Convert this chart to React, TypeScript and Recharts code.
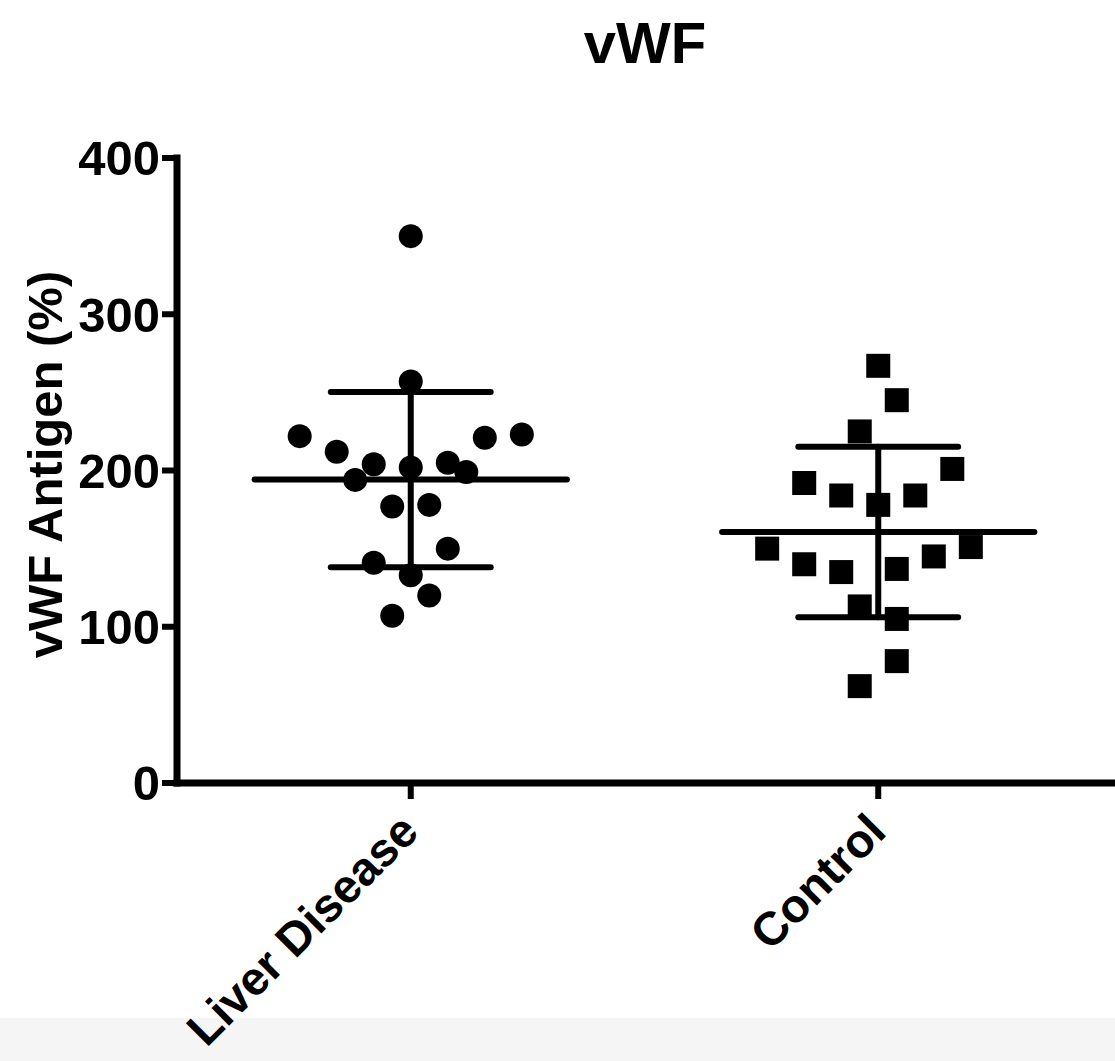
import { ReferenceLine, Scatter, ScatterChart, XAxis, YAxis } from "recharts";

const categories = ["Liver Disease", "Control"];
const yTicks = [0, 100, 200, 300, 400];

// values, with the column each dot sits in (scatter spread)
const liverValues = [350, 257, 222, 212, 204, 194, 202, 205, 199, 221, 223, 177, 178, 150, 141, 133, 120, 107];
const liverColumns = [0, 0, -6, -4, -2, -3, 0, 2, 3, 4, 6, -1, 1, 2, -2, 0, 1, -1];
const controlValues = [267, 245, 225, 201, 192, 184, 178, 184, 150, 151, 140, 135, 137, 145, 113, 105, 78, 62];
const controlColumns = [0, 1, -1, 4, -4, -2, 0, 2, -6, 5, -4, -2, 1, 3, -1, 1, 1, -1];

const COL_W = 0.0396;
const MEAN_HALF = 0.334;
const SD_HALF = 0.171;
const FONT = "'Liberation Sans', Arial, Helvetica, sans-serif";

const toPoints = (center: number, values: number[], cols: number[]) =>
  values.map((v, i) => ({ x: center + cols[i] * COL_W, y: v }));

const stats = (values: number[]) => {
  const mean = values.reduce((a, b) => a + b, 0) / values.length;
  const sd = Math.sqrt(
    values.reduce((a, b) => a + (b - mean) ** 2, 0) / (values.length - 1)
  );
  return { mean, sd };
};

const groups = [
  { center: 0.5, values: liverValues, cols: liverColumns },
  { center: 1.5, values: controlValues, cols: controlColumns },
];

const Circle = (props: any) => {
  const { cx, cy } = props;
  return <circle cx={cx} cy={cy} r={12} fill="#000" />;
};

const Square = (props: any) => {
  const { cx, cy } = props;
  return <rect x={cx - 12} y={cy - 12} width={24} height={24} fill="#000" />;
};

const XTick = (props: any) => {
  const { x, y, payload } = props;
  const idx = Math.round(payload.value - 0.5);
  const ax = x + 10;
  const ay = y + 33;
  return (
    <text
      x={ax}
      y={ay}
      transform={`rotate(-45, ${ax}, ${ay})`}
      textAnchor="end"
      fill="#000"
      fontSize={47}
      fontWeight="bold"
      fontFamily={FONT}
    >
      {categories[idx]}
    </text>
  );
};

const YLabel = (props: any) => {
  const { viewBox } = props;
  const cx = 45;
  const cy = viewBox.y + viewBox.height / 2 - 6;
  return (
    <text
      x={cx}
      y={cy}
      transform={`rotate(-90, ${cx}, ${cy})`}
      textAnchor="middle"
      dominantBaseline="central"
      fill="#000"
      fontSize={49}
      fontWeight="bold"
      fontFamily={FONT}
    >
      vWF Antigen (%)
    </text>
  );
};

const App = () => {
  const lineStyle = { stroke: "#000", strokeWidth: 6, strokeLinecap: "round" as const };

  return (
    <div style={{ position: "absolute", left: 0, top: 0, width: 1115, height: 1061, background: "#fff" }}>
      <div
        style={{
          position: "absolute",
          left: 0,
          top: 1018,
          width: 1115,
          height: 43,
          background: "#f5f5f5",
        }}
      />
      <div
        style={{
          position: "absolute",
          left: 0,
          top: 14,
          width: 1290,
          textAlign: "center",
          fontFamily: FONT,
          fontWeight: "bold",
          fontSize: 58,
          lineHeight: "58px",
          color: "#000",
        }}
      >
        vWF
      </div>
      <div style={{ position: "absolute", left: 0, top: 0 }}>
        <ScatterChart width={1115} height={1061} margin={{ top: 158, right: 3, bottom: 0, left: 0 }}>
          <XAxis
            type="number"
            dataKey="x"
            domain={[0, 2]}
            ticks={[0.5, 1.5]}
            height={278}
            tick={<XTick />}
            tickSize={16}
            tickMargin={2}
            axisLine={{ stroke: "#000", strokeWidth: 7, strokeLinecap: "square" }}
            tickLine={{ stroke: "#000", strokeWidth: 6 }}
            allowDataOverflow
          />
          <YAxis
            type="number"
            dataKey="y"
            domain={[0, 400]}
            ticks={yTicks}
            width={177}
            tickSize={15}
            tickMargin={2}
            axisLine={{ stroke: "#000", strokeWidth: 7, strokeLinecap: "square" }}
            tickLine={{ stroke: "#000", strokeWidth: 6 }}
            tick={{ fill: "#000", fontSize: 49, fontWeight: "bold", fontFamily: FONT }}
            label={<YLabel />}
          />
          {groups.map((g, i) => {
            const { mean, sd } = stats(g.values);
            return [
              <ReferenceLine
                key={`mean-${i}`}
                segment={[
                  { x: g.center - MEAN_HALF, y: mean },
                  { x: g.center + MEAN_HALF, y: mean },
                ]}
                {...lineStyle}
              />,
              <ReferenceLine
                key={`sdt-${i}`}
                segment={[
                  { x: g.center - SD_HALF, y: mean + sd },
                  { x: g.center + SD_HALF, y: mean + sd },
                ]}
                {...lineStyle}
              />,
              <ReferenceLine
                key={`sdb-${i}`}
                segment={[
                  { x: g.center - SD_HALF, y: mean - sd },
                  { x: g.center + SD_HALF, y: mean - sd },
                ]}
                {...lineStyle}
              />,
              <ReferenceLine
                key={`sdv-${i}`}
                segment={[
                  { x: g.center, y: mean - sd },
                  { x: g.center, y: mean + sd },
                ]}
                {...lineStyle}
              />,
            ];
          })}
          <Scatter
            name={categories[0]}
            data={toPoints(groups[0].center, liverValues, liverColumns)}
            shape={<Circle />}
            isAnimationActive={false}
          />
          <Scatter
            name={categories[1]}
            data={toPoints(groups[1].center, controlValues, controlColumns)}
            shape={<Square />}
            isAnimationActive={false}
          />
        </ScatterChart>
      </div>
    </div>
  );
};

export default App;
